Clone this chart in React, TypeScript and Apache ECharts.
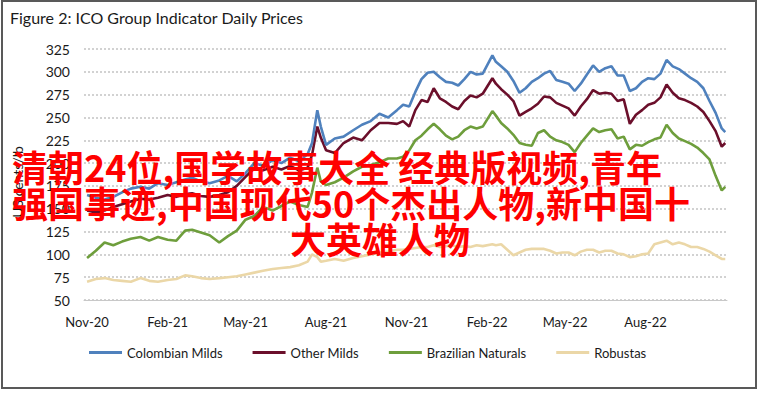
import React, { useEffect, useRef } from "react";
import * as echarts from "echarts";

const dates = [
  "2020-11-01","2020-11-11","2020-11-21","2020-12-01","2020-12-11","2020-12-21",
  "2021-01-01","2021-01-11","2021-01-21","2021-02-01","2021-02-11","2021-02-21",
  "2021-03-01","2021-03-11","2021-03-21","2021-04-01","2021-04-11","2021-04-21",
  "2021-05-01","2021-05-11","2021-05-21","2021-06-01","2021-06-11","2021-06-21",
  "2021-07-01","2021-07-11","2021-07-16","2021-07-22","2021-07-26","2021-08-01",
  "2021-08-11","2021-08-21","2021-09-01","2021-09-11","2021-09-21","2021-10-01",
  "2021-10-11",
  "2021-10-21","2021-10-28","2021-11-04","2021-11-11","2021-11-18","2021-11-25",
  "2021-12-02","2021-12-09","2021-12-16","2021-12-23","2021-12-30","2022-01-06",
  "2022-01-13","2022-01-20","2022-01-27","2022-02-07","2022-02-11","2022-02-17",
  "2022-02-24","2022-03-03","2022-03-10","2022-03-17","2022-03-24","2022-03-31",
  "2022-04-07","2022-04-14","2022-04-21","2022-04-28","2022-05-05","2022-05-12",
  "2022-05-19","2022-05-26","2022-06-02","2022-06-09","2022-06-16","2022-06-23",
  "2022-06-30","2022-07-07","2022-07-14","2022-07-21","2022-07-28","2022-08-04",
  "2022-08-11","2022-08-18","2022-08-25","2022-09-01","2022-09-08","2022-09-15",
  "2022-09-22","2022-09-29","2022-10-06","2022-10-13","2022-10-20","2022-10-27",
  "2022-10-31",
];

const colombianMilds = [
  165,162,160,163,168,172, 174,172,178,176,179,182, 184,180,178,181,186,180,
  189,200,197,203,200,206, 202,210,222,258,240,220, 227,229,236,242,246,254,
  250,
  258,264,262,278,292,299, 300,294,289,288,285,292, 300,297,298,318,311,306,
  300,290,277,282,289,293, 298,301,291,289,287,279, 287,297,307,300,304,306,
  296,296,279,282,289,293, 292,298,313,306,303,298, 293,289,282,268,255,238,
  234,
];

const otherMilds = [
  148,146,148,152,155,158, 161,160,162,165,163,166, 167,164,163,165,168,175,
  185,194,192,196,193,197, 192,195,209,240,228,214, 211,222,228,225,236,244,
  244,
  243,246,240,258,269,267, 282,271,267,262,259,268, 274,272,276,293,287,281,
  275,268,252,256,260,265, 273,272,266,263,260,252, 262,270,280,276,277,276,
  268,270,243,253,258,264, 266,272,286,277,271,269, 266,262,256,246,235,218,
  222,
];

const brazilianNaturals = [
  96,104,113,110,114,117, 119,115,119,116,115,126, 127,124,121,113,120,126,
  138,142,152,148,153,158, 154,152,168,195,180,176, 179,184,191,196,198,201,
  205,
  205,207,214,225,230,237, 243,237,230,226,229,236, 240,238,240,257,252,244,
  238,231,222,220,219,233, 236,229,225,223,220,212, 222,230,238,234,236,237,
  227,229,215,220,219,223, 226,228,242,233,227,224, 221,217,211,204,186,170,
  174,
];

const robustas = [
  70,73,74,72,71,70, 74,71,70,72,73,77, 76,74,73,74,75,76,
  78,80,82,84,85,86, 88,92,100,97,92,93, 95,93,96,98,100,102,
  103,
  105,105,106,107,108,108, 110,108,109,110,108,109, 108,110,109,111,110,111,
  105,99,102,105,106,106, 106,104,101,102,102,99, 103,105,105,102,104,104,
  101,100,97,98,100,101, 111,113,115,111,113,111, 108,108,106,103,99,95,
  95,
];

const seriesNames = ["Colombian Milds", "Other Milds", "Brazilian Naturals", "Robustas"];
const seriesColors = ["#4F81BD", "#6B0F2B", "#6E9E3C", "#EBD7A7"];
const seriesValues = [colombianMilds, otherMilds, brazilianNaturals, robustas];

const xTickDates = ["2020-11-01","2021-02-01","2021-05-01","2021-08-01","2021-11-01","2022-02-01","2022-05-01","2022-08-01"];
const xTickLabels = ["Nov-20","Feb-21","May-21","Aug-21","Nov-21","Feb-22","May-22","Aug-22"];

const yMin = 50;
const yMax = 325;
const yStep = 25;

const titleText = "Figure 2: ICO Group Indicator Daily Prices";
const yAxisTitle = "US cents/lb";
const overlayLines = [
  "清朝24位,国学故事大全 经典版视频,青年",
  "强国事迹,中国现代50个杰出人物,新中国十",
  "大英雄人物",
];

const DAY = 86400000;
const ORIGIN = Date.UTC(2020, 10, 1);

function toDay(s: string): number {
  const [y, m, d] = s.split("-").map(Number);
  return (Date.UTC(y, m - 1, d) - ORIGIN) / DAY;
}

export default function App() {
  const ref = useRef<HTMLDivElement>(null);

  useEffect(() => {
    document.body.style.margin = "0";
    if (!ref.current) return;
    const chart = echarts.init(ref.current, null, { renderer: "svg" });
    const tickDays = xTickDates.map(toDay);
    const latin = "Lato, 'Liberation Sans', sans-serif";
    const cjk = "'Noto Sans CJK SC', sans-serif";

    const option: any = {
      animation: false,
      backgroundColor: "#ffffff",
      textStyle: { fontFamily: latin },
      grid: { left: 84, right: 32, top: 49, bottom: 93, containLabel: false },
      legend: {
        data: seriesNames,
        left: 84,
        top: 341,
        icon: "rect",
        itemWidth: 33,
        itemHeight: 3,
        itemGap: 30,
        textStyle: { fontSize: 13, color: "#1a1a1a", fontFamily: latin },
      },
      xAxis: {
        type: "value",
        min: toDay("2020-10-28") + 0.5,
        max: toDay("2022-11-02"),
        splitLine: { show: false },
        axisTick: { show: false },
        axisLine: { show: true, onZero: false, lineStyle: { color: "#c8c8c8", width: 1 } },
        axisLabel: {
          customValues: tickDays,
          color: "#1a1a1a",
          fontSize: 13,
          margin: 15,
          formatter: (val: number) => {
            const i = tickDays.findIndex((t) => Math.abs(t - val) < 0.5);
            return i >= 0 ? xTickLabels[i] : "";
          },
        },
      },
      yAxis: {
        type: "value",
        min: yMin,
        max: yMax,
        interval: yStep,
        axisLine: { show: false },
        axisTick: { show: false },
        axisLabel: { color: "#1a1a1a", fontSize: 14, margin: 14 },
        splitLine: { show: true, lineStyle: { color: "#c4c4c4", width: 1.5, type: [2, 2] } },
      },
      series: seriesNames.map((name, si) => ({
        name,
        type: "line",
        showSymbol: false,
        symbol: "none",
        color: seriesColors[si],
        lineStyle: { width: 2.6, color: seriesColors[si] },
        z: 10 - si,
        data: dates.map((d, i) => [toDay(d), seriesValues[si][i]]),
      })),
      graphic: [
        {
          type: "rect",
          silent: true,
          shape: { x: 2, y: 1, width: 754, height: 387 },
          style: { fill: "none", stroke: "#595959", lineWidth: 2 },
          z: 1,
        },
        {
          type: "text",
          x: 10,
          y: 17,
          style: {
            text: titleText,
            fill: "#1a1a1a",
            fontSize: 16,
            fontFamily: latin,
            verticalAlign: "middle",
          },
        },
        {
          type: "text",
          x: 17,
          y: 182,
          rotation: Math.PI / 2,
          style: {
            text: yAxisTitle,
            fill: "#1a1a1a",
            fontSize: 14,
            fontFamily: latin,
            align: "center",
            verticalAlign: "middle",
          },
        },
        {
          type: "text",
          x: 12,
          y: 166,
          z: 100,
          style: {
            text: overlayLines[0],
            fill: "#ff0000",
            fontSize: 36,
            fontWeight: "bold",
            fontFamily: cjk,
            verticalAlign: "middle",
          },
        },
        {
          type: "text",
          x: 12,
          y: 202,
          z: 100,
          style: {
            text: overlayLines[1],
            fill: "#ff0000",
            fontSize: 36,
            fontWeight: "bold",
            fontFamily: cjk,
            verticalAlign: "middle",
          },
        },
        {
          type: "text",
          x: 380,
          y: 238,
          z: 100,
          style: {
            text: overlayLines[2],
            fill: "#ff0000",
            fontSize: 36,
            fontWeight: "bold",
            fontFamily: cjk,
            align: "center",
            verticalAlign: "middle",
          },
        },
      ],
    };

    chart.setOption(option);
    return () => chart.dispose();
  }, []);

  return (
    <div
      ref={ref}
      style={{ position: "absolute", left: 0, top: 0, width: 759, height: 393 }}
    />
  );
}
